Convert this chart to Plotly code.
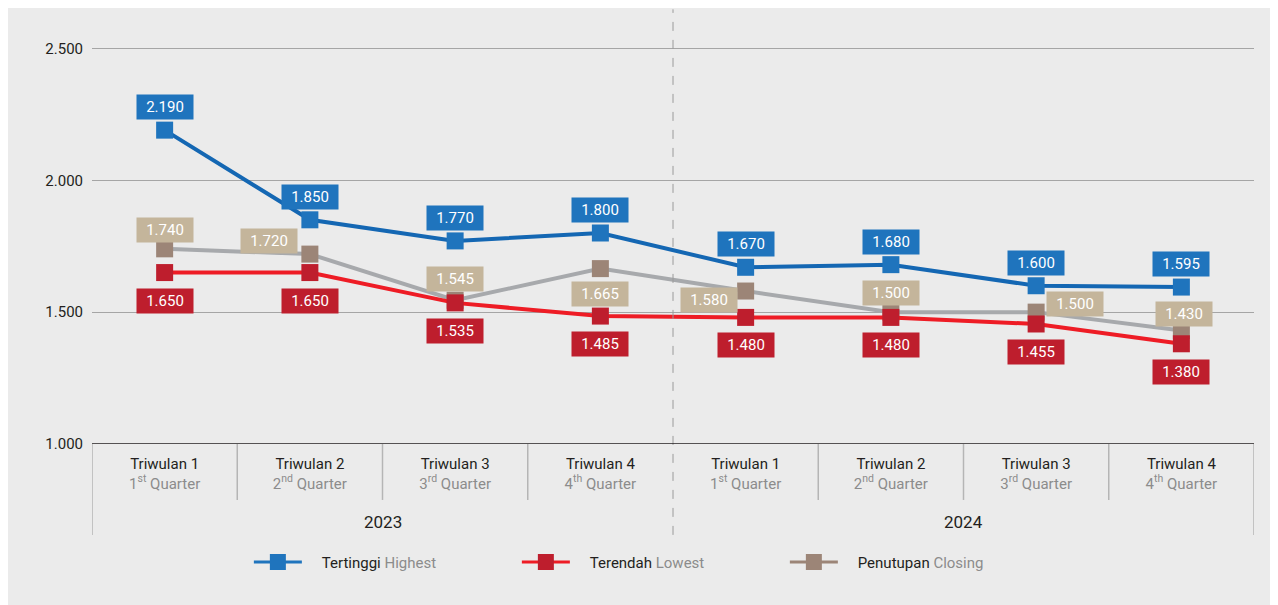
import plotly.graph_objects as go

quarters_id = ["Triwulan 1", "Triwulan 2", "Triwulan 3", "Triwulan 4",
               "Triwulan 1", "Triwulan 2", "Triwulan 3", "Triwulan 4"]
quarters_en = ["1<sup>st</sup> Quarter", "2<sup>nd</sup> Quarter", "3<sup>rd</sup> Quarter", "4<sup>th</sup> Quarter",
               "1<sup>st</sup> Quarter", "2<sup>nd</sup> Quarter", "3<sup>rd</sup> Quarter", "4<sup>th</sup> Quarter"]
years = ["2023", "2024"]

highest = [2190, 1850, 1770, 1800, 1670, 1680, 1600, 1595]
lowest = [1650, 1650, 1535, 1485, 1480, 1480, 1455, 1380]
closing = [1740, 1720, 1545, 1665, 1580, 1500, 1500, 1430]

# label offsets for the closing series (px)
closing_shift = [(0, 19), (-41, 13), (0, 21), (0, -25), (-37, -9), (0, 19), (39, 8), (3, 17)]

BLUE = "#1F74BD"
BLUE_LINE = "#1467B3"
RED = "#BE1E2D"
RED_LINE = "#EE1C25"
GREY_LINE = "#A7A9AC"
BROWN = "#9C8577"
TAN = "#C4B59B"
BG = "#EBEBEB"
MUTED = "#8C8C8C"
DARK = "#231F20"
FONT = "Roboto"

x = list(range(len(highest)))


def fmt(v):
    return f"{v:,}".replace(",", ".")


fig = go.Figure()

fig.add_trace(go.Scatter(x=x, y=closing, mode="lines+markers", showlegend=False,
                         line=dict(color=GREY_LINE, width=4),
                         marker=dict(symbol="square", size=17, color=BROWN)))
fig.add_trace(go.Scatter(x=x, y=lowest, mode="lines+markers", showlegend=False,
                         line=dict(color=RED_LINE, width=4),
                         marker=dict(symbol="square", size=17, color=RED)))
fig.add_trace(go.Scatter(x=x, y=highest, mode="lines+markers", showlegend=False,
                         line=dict(color=BLUE_LINE, width=4),
                         marker=dict(symbol="square", size=17, color=BLUE)))

legend_items = [
    ("Tertinggi", "Highest", BLUE, BLUE),
    ("Terendah", "Lowest", RED_LINE, RED),
    ("Penutupan", "Closing", BROWN, BROWN),
]
for id_name, en_name, lc, mc in legend_items:
    fig.add_trace(go.Scatter(x=[None], y=[None], mode="lines+markers",
                             name=f"&nbsp;&nbsp;&nbsp;&nbsp;{id_name} <span style='color:{MUTED}'>{en_name}</span>",
                             line=dict(color=lc, width=3),
                             marker=dict(symbol="square", size=16, color=mc)))

annotations = []
box = dict(showarrow=False, width=52, height=20, borderpad=2,
           font=dict(family=FONT, size=15, color="white"), xref="x", yref="y")
for i, v in enumerate(highest):
    annotations.append(dict(box, x=i, y=v, text=fmt(v), bgcolor=BLUE, yshift=23))
for i, v in enumerate(lowest):
    annotations.append(dict(box, x=i, y=v, text=fmt(v), bgcolor=RED, yshift=-28))
for i, v in enumerate(closing):
    dx, dy = closing_shift[i]
    annotations.append(dict(box, x=i, y=v, text=fmt(v), bgcolor=TAN, xshift=dx, yshift=dy))

for j, yr in enumerate(years):
    annotations.append(dict(x=j * 4 + 1.5, y=-0.185, xref="x", yref="paper", yanchor="middle",
                            text=yr, showarrow=False,
                            font=dict(family=FONT, size=17, color=DARK)))

shapes = [
    dict(type="line", xref="x", yref="paper", x0=3.5, x1=3.5, y0=-0.2154, y1=1.03,
         line=dict(color="#9A9A9A", width=1, dash="dash")),
    dict(type="line", xref="x", yref="paper", x0=-0.5, x1=-0.5, y0=-0.2154, y1=0,
         line=dict(color="#B5B5B5", width=1.5)),
    dict(type="line", xref="x", yref="paper", x0=7.5, x1=7.5, y0=-0.2154, y1=0,
         line=dict(color="#B5B5B5", width=1.5)),
]
for k in [0.5, 1.5, 2.5, 4.5, 5.5, 6.5]:
    shapes.append(dict(type="line", xref="x", yref="paper", x0=k, x1=k, y0=-0.1326, y1=0,
                       line=dict(color="#B5B5B5", width=1.5)))

ticktext = [f"{a}<br><span style='color:{MUTED}'>{b}</span>" for a, b in zip(quarters_id, quarters_en)]

fig.update_layout(
    width=1270, height=597,
    margin=dict(l=84, r=24, t=14, b=161),
    paper_bgcolor=BG,
    plot_bgcolor=BG,
    separators=",.",
    font=dict(family=FONT, size=15, color=DARK),
    showlegend=True,
    legend=dict(orientation="h", x=0.135, xanchor="left", y=-0.28, yanchor="middle",
                bgcolor="rgba(0,0,0,0)", font=dict(family=FONT, size=15, color=DARK),
                entrywidth=205, entrywidthmode="pixels", itemwidth=48),
    annotations=annotations,
    shapes=shapes,
    xaxis=dict(range=[-0.5, 7.5], tickvals=x, ticktext=ticktext, showgrid=False, zeroline=False,
               showline=False, ticks="", ticklabelstandoff=9,
               tickfont=dict(family=FONT, size=15, color=DARK), fixedrange=True),
    yaxis=dict(range=[1000, 2600], tickvals=[1000, 1500, 2000, 2500], tickformat=",d",
               showgrid=True, gridcolor="#A5A5A5", gridwidth=1, zeroline=False,
               showline=False, ticks="", ticklabelstandoff=8,
               tickfont=dict(family=FONT, size=15, color=DARK)),
)

# black baseline at 1.000
fig.add_hline(y=1000, line=dict(color=DARK, width=1.5))

fig.write_html("out.html")
